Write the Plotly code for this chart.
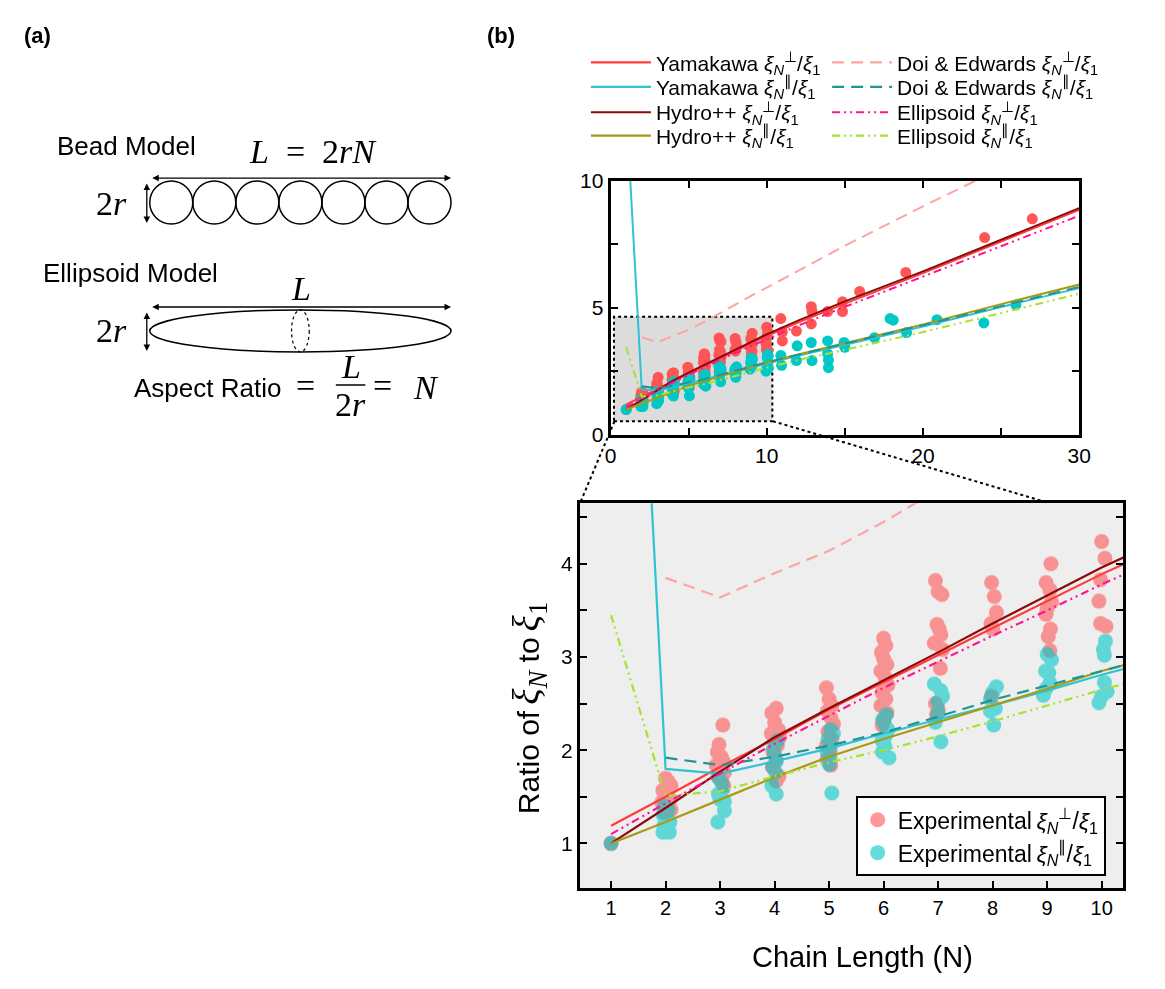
import plotly.graph_objects as go

W, H = 1165, 989

# ---------------- data ----------------
N_model = [1, 2, 3, 4, 5, 6, 7, 8, 9, 10, 12, 15, 20, 25, 30]
yam_perp = [1.19, 1.50, 1.82, 2.12, 2.44, 2.73, 3.02, 3.31, 3.60, 3.89, 4.42, 5.17, 6.37, 7.61, 8.86]
yam_par = [13.0, 1.80, 1.75, 1.88, 2.02, 2.18, 2.33, 2.48, 2.64, 2.81, 3.12, 3.55, 4.27, 5.04, 5.78]
hydro_perp = [1.00, 1.38, 1.77, 2.14, 2.45, 2.75, 3.05, 3.36, 3.66, 3.96, 4.50, 5.26, 6.44, 7.69, 8.93]
hydro_par = [1.00, 1.23, 1.47, 1.71, 1.93, 2.12, 2.30, 2.48, 2.66, 2.85, 3.17, 3.62, 4.35, 5.15, 5.92]
doi_perp = [None, 3.85, 3.64, 3.90, 4.14, 4.45, 4.80, 5.15, 5.48, 5.80, 6.45, 7.45, 9.00, 10.5, 12.0]
doi_par = [None, 1.92, 1.84, 1.93, 2.05, 2.19, 2.36, 2.54, 2.70, 2.86, 3.16, 3.60, 4.32, 5.08, 5.83]
ell_perp = [1.10, 1.43, 1.75, 2.07, 2.37, 2.67, 2.95, 3.23, 3.50, 3.78, 4.30, 5.04, 6.22, 7.43, 8.63]
ell_par = [3.45, 1.51, 1.56, 1.72, 1.87, 2.00, 2.15, 2.31, 2.48, 2.65, 2.95, 3.35, 4.05, 4.80, 5.56]

exp_perp_N = [1.0,
              2.0, 2.05, 2.1, 1.95, 2.0, 2.08, 1.93, 2.03, 2.1, 1.98,
              3.05, 2.98, 2.95, 3.02, 3.06, 2.93, 3.0, 3.08, 2.96, 3.03, 3.07,
              4.03, 3.95, 4.0, 4.07, 3.94, 4.09, 4.0, 4.05, 3.97, 4.03, 3.96, 4.08, 4.03,
              4.95, 5.0, 5.05, 4.97, 5.03, 5.08, 4.98, 5.05, 4.95, 5.02, 4.96, 5.03,
              6.0, 6.04, 5.96, 6.0, 6.06, 5.95, 6.03, 6.08, 5.97, 6.04, 5.95, 6.06, 6.0, 5.97,
              6.95, 7.0, 7.07, 6.98, 7.02, 7.05, 6.93, 7.08, 7.04, 6.95, 7.0, 6.97,
              7.98, 8.03, 8.07, 7.97, 8.0, 7.98,
              9.07, 8.98, 9.05, 9.08, 9.0, 8.98, 9.06, 9.02, 9.05,
              10.0, 10.06, 9.98, 9.95, 9.98, 10.08,
              10.9, 11.0, 11.0, 11.9, 12.85, 12.9, 12.85, 13.9, 14.85, 14.85, 15.95, 18.9, 23.95, 27.0]
exp_perp_ratio = [1.00,
                  1.70, 1.66, 1.62, 1.57, 1.52, 1.47, 1.44, 1.40, 1.36, 1.33,
                  2.27, 2.06, 1.98, 1.93, 1.88, 1.84, 1.80, 1.76, 1.72, 1.67, 1.62,
                  2.45, 2.40, 2.30, 2.22, 2.18, 2.14, 2.10, 2.05, 1.98, 1.90, 1.82, 1.72, 1.67,
                  2.67, 2.55, 2.48, 2.42, 2.35, 2.28, 2.20, 2.12, 2.05, 1.98, 1.90, 1.84,
                  3.20, 3.12, 3.05, 2.98, 2.92, 2.85, 2.78, 2.70, 2.62, 2.55, 2.48, 2.40, 2.32, 2.27,
                  3.82, 3.70, 3.67, 3.35, 3.30, 3.24, 3.15, 3.08, 2.88, 2.50, 2.44, 2.38,
                  3.80, 3.65, 3.48, 3.36, 3.30, 2.58,
                  4.00, 3.80, 3.72, 3.59, 3.52, 3.46, 3.30, 3.22, 3.07,
                  4.24, 4.06, 3.83, 3.60, 3.36, 3.33,
                  4.58, 4.05, 3.70, 4.09, 5.05, 4.86, 4.37, 4.86, 5.24, 4.86, 5.65, 6.40, 7.77, 8.51]

exp_par_N = [1.0,
             1.98, 2.05, 1.95, 2.02, 2.08, 1.97, 2.03, 2.07, 1.95,
             2.98, 3.03, 3.05, 2.97, 3.0, 3.08, 3.08, 2.96,
             4.05, 3.98, 4.0, 4.03, 3.97, 4.02, 3.95, 4.03,
             5.03, 5.08, 4.98, 5.03, 4.96, 5.02, 5.0, 5.05,
             6.05, 5.98, 6.02, 6.08, 6.03, 5.97, 6.02, 5.98, 6.1,
             6.93, 7.05, 7.08, 7.0, 7.0, 6.95, 7.05,
             8.07, 8.0, 7.96, 8.05, 7.96, 8.02,
             9.0, 9.08, 8.97, 9.03, 9.05, 8.98, 8.93,
             10.07, 10.03, 10.05, 10.05, 10.1, 10.0, 9.95,
             10.9, 10.95, 11.95, 11.9, 12.85, 12.9, 13.9, 13.9, 13.95, 13.95, 14.95, 15.0,
             16.9, 17.9, 18.1, 18.95, 20.9, 23.9, 25.95]
exp_par_ratio = [1.00,
                 1.40, 1.36, 1.31, 1.27, 1.23, 1.19, 1.15, 1.12, 1.12,
                 1.70, 1.65, 1.58, 1.53, 1.47, 1.45, 1.35, 1.23,
                 2.10, 2.02, 1.95, 1.88, 1.82, 1.76, 1.62, 1.53,
                 2.22, 2.18, 2.12, 2.05, 1.98, 1.92, 1.85, 1.54,
                 2.38, 2.33, 2.28, 2.22, 2.15, 2.10, 2.05, 1.98, 1.92,
                 2.71, 2.64, 2.58, 2.52, 2.40, 2.30, 2.09,
                 2.68, 2.62, 2.55, 2.45, 2.42, 2.27,
                 3.03, 2.97, 2.85, 2.83, 2.72, 2.66, 2.59,
                 3.17, 3.08, 3.02, 2.73, 2.63, 2.58, 2.51,
                 3.13, 2.74, 3.51, 2.93, 3.64, 2.93, 3.70, 3.20, 2.95, 2.65, 3.64, 3.45,
                 3.83, 4.58, 4.52, 4.03, 4.54, 4.41, 5.12]

perp = "<i>ξ</i><sub><i>N</i></sub><sup>⊥</sup>/<i>ξ</i><sub>1</sub>"
par = "<i>ξ</i><sub><i>N</i></sub><sup>∥</sup>/<i>ξ</i><sub>1</sub>"

models = [
    # name, values, color, dash, column, row
    ("Yamakawa " + perp, yam_perp, "#ff3b3b", "solid", 0, 0),
    ("Yamakawa " + par, yam_par, "#2fc3d3", "solid", 0, 1),
    ("Hydro++ " + perp, hydro_perp, "#8b0a0a", "solid", 0, 2),
    ("Hydro++ " + par, hydro_par, "#a89a12", "solid", 0, 3),
    ("Doi & Edwards " + perp, doi_perp, "#ffa3a3", "12px,7px", 1, 0),
    ("Doi & Edwards " + par, doi_par, "#1f9696", "12px,7px", 1, 1),
    ("Ellipsoid " + perp, ell_perp, "#ff1493", "8px,4px,2px,4px,2px,4px", 1, 2),
    ("Ellipsoid " + par, ell_par, "#a6e22e", "8px,4px,2px,4px,2px,4px", 1, 3),
]
legend_cols = [589, 834]
legend_rows = [52, 77, 103, 127]


def px(x):
    return x / W


def py(y):
    return 1 - y / H


fig = go.Figure()

# experimental points
for xs, ys, col, name in [(exp_perp_N, exp_perp_ratio, "rgb(255,85,85)", "Experimental\u2009" + perp),
                          (exp_par_N, exp_par_ratio, "rgb(0,200,200)", "Experimental\u2009" + par)]:
    fig.add_trace(go.Scatter(x=xs, y=ys, mode="markers", xaxis="x", yaxis="y",
                             marker=dict(size=11, color=col), showlegend=False))
    fig.add_trace(go.Scatter(x=xs, y=ys, mode="markers", xaxis="x2", yaxis="y2",
                             marker=dict(size=15, color=col), opacity=0.6,
                             name=name, legend="legend2"))

legend_layout = {}
# model lines
for k, (name, vals, col, dash, c, r) in enumerate(models):
    lname = "legend%d" % (k + 3)
    fig.add_trace(go.Scatter(x=N_model, y=vals, mode="lines", xaxis="x", yaxis="y",
                             line=dict(color=col, width=2, dash=dash), showlegend=False))
    fig.add_trace(go.Scatter(x=N_model, y=vals, mode="lines", xaxis="x2", yaxis="y2",
                             line=dict(color=col, width=2.2, dash=dash),
                             name=name, legend=lname))
    legend_layout[lname] = dict(x=px(legend_cols[c]), y=py(legend_rows[r]), xanchor="left",
                                yanchor="middle", bgcolor="rgba(0,0,0,0)",
                                font=dict(size=21), itemwidth=60)

axis_common = dict(showgrid=False, zeroline=False, showline=True, linecolor="black",
                   linewidth=3, ticks="inside", ticklen=7, tickwidth=2, tickcolor="black")

fig.update_layout(
    width=W, height=H,
    margin=dict(l=0, r=0, t=0, b=0),
    paper_bgcolor="white", plot_bgcolor="rgba(0,0,0,0)",
    font=dict(family="Arial, Liberation Sans, sans-serif", color="black"),
    xaxis=dict(domain=[px(614), px(1090)], range=[0, 30], anchor="y",
               tickvals=[0, 10, 20, 30], mirror="ticks",
               minor=dict(dtick=5, ticks="inside", ticklen=7, tickwidth=2, tickcolor="black"),
               tickfont=dict(size=21), **axis_common),
    yaxis=dict(domain=[py(433), py(173)], range=[0, 10], anchor="x",
               tickvals=[0, 5, 10], mirror="ticks",
               minor=dict(dtick=2.5, ticks="inside", ticklen=7, tickwidth=2, tickcolor="black"),
               tickfont=dict(size=21), **axis_common),
    xaxis2=dict(domain=[px(583), px(1135)], range=[0.43, 10.40], anchor="y2",
                tickvals=list(range(1, 11)), mirror=True,
                tickfont=dict(size=20), **axis_common),
    yaxis2=dict(domain=[py(897), py(503)], range=[0.52, 4.65], anchor="x2",
                tickvals=[1, 2, 3, 4], mirror="ticks",
                minor=dict(dtick=0.5, ticks="inside", ticklen=7, tickwidth=2, tickcolor="black"),
                tickfont=dict(size=21), **axis_common),
    xaxis3=dict(domain=[0, px(470)], range=[0, 470], visible=False, anchor="y3"),
    yaxis3=dict(domain=[py(420), 1], range=[420, 0], visible=False, anchor="x3"),
    legend2=dict(x=px(863), y=py(803), xanchor="left", yanchor="top",
                 bgcolor="white", bordercolor="black", borderwidth=2,
                 font=dict(size=23), itemwidth=30),
    **legend_layout,
)

shapes = []
# lower plot background
shapes.append(dict(type="rect", xref="x2 domain", yref="y2 domain", x0=0, x1=1, y0=0, y1=1,
                   fillcolor="#eeeeee", line=dict(width=0), layer="below"))
# zoom rectangle in upper plot
shapes.append(dict(type="rect", xref="x", yref="y", x0=0.22, x1=10.36, y0=0.54, y1=4.65,
                   fillcolor="#dcdcdc", line=dict(color="black", width=2, dash="dot"),
                   layer="below"))
# connector lines (paper)
shapes.append(dict(type="line", xref="paper", yref="paper", x0=px(618), y0=py(419),
                   x1=px(583), y1=py(503), line=dict(color="black", width=2, dash="dot")))
shapes.append(dict(type="line", xref="paper", yref="paper", x0=px(779), y0=py(419),
                   x1=px(1057), y1=py(502), line=dict(color="black", width=2, dash="dot")))

# ---- panel (a) drawing (pixel canvas on x3/y3) ----
blk = dict(color="black", width=1.5)
d = (452 - 146) / 7
for i in range(7):
    shapes.append(dict(type="circle", xref="x3", yref="y3", x0=146 + i * d, x1=146 + (i + 1) * d,
                       y0=173, y1=217, line=blk))
shapes.append(dict(type="circle", xref="x3", yref="y3", x0=146, x1=452, y0=305, y1=348, line=blk))
shapes.append(dict(type="circle", xref="x3", yref="y3", x0=290, x1=308, y0=305, y1=348,
                   line=dict(color="black", width=1.2, dash="dot")))
AR_Y = 385
shapes.append(dict(type="line", xref="x3", yref="y3", x0=335, x1=365, y0=AR_Y - 3, y1=AR_Y - 3,
                   line=blk))
fig.update_layout(shapes=shapes)

ann = []


def arrow(x0, y0, x1, y1):
    ann.append(dict(xref="x3", yref="y3", axref="x3", ayref="y3", x=x1, y=y1, ax=x0, ay=y0,
                    text="", showarrow=True, arrowhead=2, arrowsize=1, arrowwidth=1.3,
                    arrowside="end+start", arrowcolor="black"))


arrow(147, 170, 452, 170)
arrow(143, 174, 143, 216)
arrow(147, 302, 452, 302)
arrow(143, 306, 143, 347)


def txt(x, y, s, size=19, family=None, xanchor="center", ref="x3", bold=False, angle=0):
    f = dict(size=size, color="black")
    if family:
        f["family"] = family
    if bold:
        s = "<b>" + s + "</b>"
    if ref == "x3":
        ann.append(dict(xref="x3", yref="y3", x=x, y=y, text=s, showarrow=False, font=f,
                        xanchor=xanchor, yanchor="middle", textangle=angle))
    else:
        ann.append(dict(xref="paper", yref="paper", x=px(x), y=py(y), text=s, showarrow=False,
                        font=f, xanchor=xanchor, yanchor="middle", textangle=angle))


serif = "Liberation Serif, DejaVu Serif, serif"
txt(32, 24, "(a)", size=22, bold=True)
txt(122, 137, "Bead Model", size=26)
txt(312, 143, "<i>L</i>\u00a0 =\u00a0 2<i>rN</i>", size=34, family=serif)
txt(107, 196, "2<i>r</i>", size=34, family=serif)
txt(126, 267, "Ellipsoid Model", size=26)
txt(300, 283, "<i>L</i>", size=34, family=serif)
txt(107, 326, "2<i>r</i>", size=34, family=serif)
txt(281, AR_Y, "Aspect Ratio", size=26, xanchor="right")
txt(304, AR_Y - 3, "=", size=34, family=serif)
txt(350, AR_Y - 22, "<i>L</i>", size=34, family=serif)
txt(350, AR_Y + 17, "2<i>r</i>", size=34, family=serif)
txt(382, AR_Y - 3, "=", size=34, family=serif)
txt(427, AR_Y - 1, "<i>N</i>", size=34, family=serif)

txt(503, 24, "(b)", size=22, bold=True, ref="paper")
mspan = '<span style="font-family:Liberation Serif, DejaVu Serif, serif;font-size:38px">'
ytitle = ("Ratio of\u2009" + mspan + "<i>ξ</i><sub><i>N</i></sub></span> to\u2009"
          + mspan + "<i>ξ</i><sub>1</sub></span>")
txt(532, 713, ytitle, size=30, ref="paper", angle=-90)
txt(870, 968, "Chain Length (N)", size=29, ref="paper")

fig.update_layout(annotations=ann)

fig.write_html("out.html", post_script="document.body.style.margin='0px';",
               config={"displayModeBar": False})
